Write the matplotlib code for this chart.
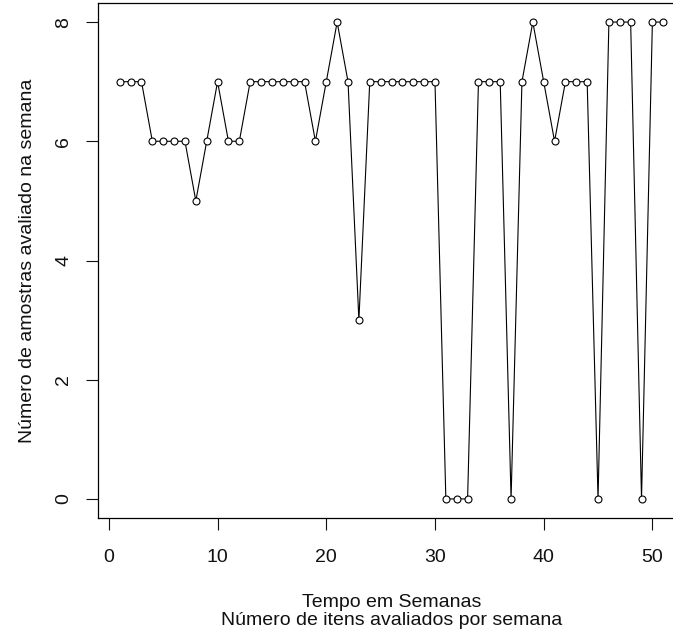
import numpy as np
import matplotlib.pyplot as plt

plt.rcParams['font.family'] = ['Liberation Sans', 'DejaVu Sans']

semanas = np.arange(1, 52)
amostras = [7, 7, 7, 6, 6, 6, 6, 5, 6, 7,
            6, 6, 7, 7, 7, 7, 7, 7, 6, 7,
            8, 7, 3, 7, 7, 7, 7, 7, 7, 7,
            0, 0, 0, 7, 7, 7, 0, 7, 8, 7,
            6, 7, 7, 7, 0, 8, 8, 8, 0, 8, 8]
xticks = [0, 10, 20, 30, 40, 50]
yticks = [0, 2, 4, 6, 8]

fig = plt.figure(figsize=(6.73, 6.36), dpi=100)
ax = fig.add_axes([98 / 673, 118 / 636, 587 / 673, 515 / 636])

ax.plot(semanas, amostras, color='black', lw=0.8,
        marker='o', ms=5, mfc='white', mec='black', mew=0.8)

ax.set_xlim(-1, 53)
ax.set_ylim(-0.32, 8.32)
ax.set_xticks(xticks)
ax.set_yticks(yticks)
ax.tick_params(axis='both', direction='out', length=8.5, width=0.8,
               labelsize=14, colors='#111111')
ax.tick_params(axis='x', pad=14)
ax.tick_params(axis='y', pad=10)
for lab in ax.get_yticklabels():
    lab.set_rotation(90)
    lab.set_va('center')

for s in ax.spines.values():
    s.set_linewidth(0.9)

ax.set_xlabel('Tempo em Semanas\nNúmero de itens avaliados por semana',
              fontsize=14, linespacing=1.05, labelpad=20, color='#111111')
ax.set_ylabel('Número de amostras avaliado na semana', fontsize=14,
              labelpad=14, color='#111111')

fig.savefig('out.png', dpi=100)
